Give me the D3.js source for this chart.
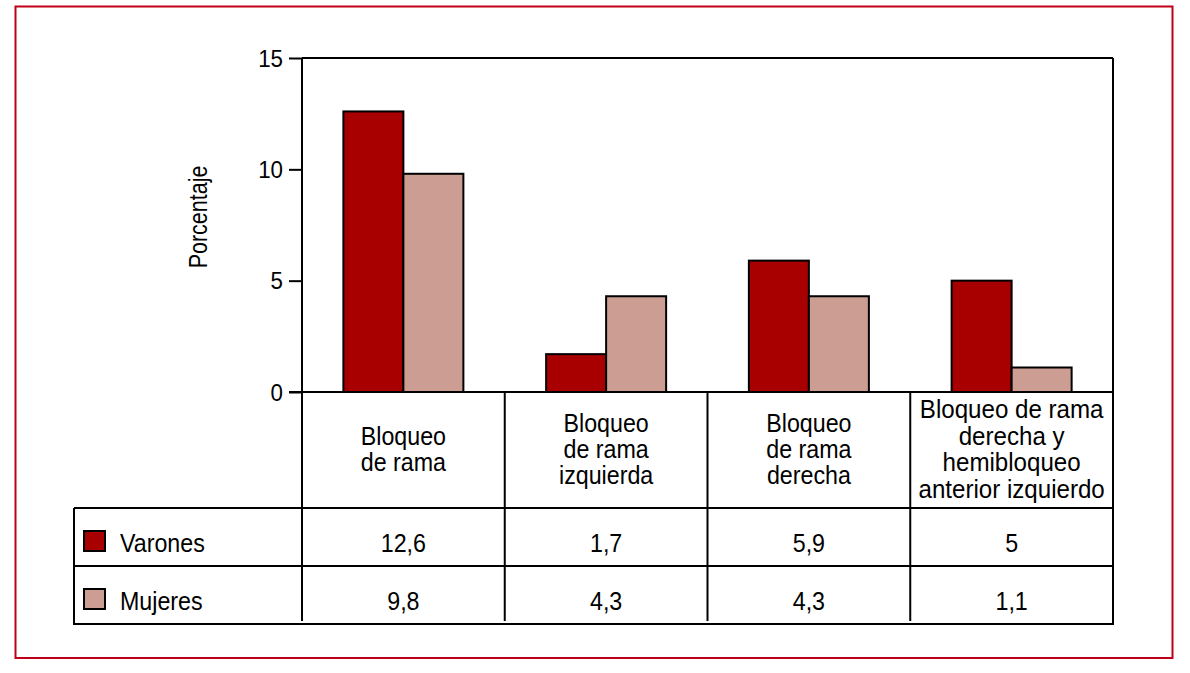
<!DOCTYPE html>
<html>
<head>
<meta charset="utf-8">
<script src="https://cdn.jsdelivr.net/npm/d3@7"></script>
<style>
  html, body { margin: 0; padding: 0; background: #fff; }
  svg { display: block; }
  text { font-family: "Liberation Sans", Arial, sans-serif; fill: #000; }
</style>
</head>
<body>
<svg id="chart" width="1190" height="673"></svg>
<script>
// ---- data ----
const categories = [
  ["Bloqueo", "de rama"],
  ["Bloqueo", "de rama", "izquierda"],
  ["Bloqueo", "de rama", "derecha"],
  ["Bloqueo de rama", "derecha y", "hemibloqueo", "anterior izquierdo"]
];
const seriesNames = ["Varones", "Mujeres"];
const varones = [12.6, 1.7, 5.9, 5];
const mujeres = [9.8, 4.3, 4.3, 1.1];
const valueLabels = [["12,6", "1,7", "5,9", "5"], ["9,8", "4,3", "4,3", "1,1"]];
const yTicks = [0, 5, 10, 15];
const colors = ["#a80000", "#cc9e93"];
const yTitle = "Porcentaje";

// ---- layout ----
const svg = d3.select("#chart");
const plotLeft = 302, plotRight = 1113, plotTop = 58, plotBottom = 392;
const tableLeft = 74, rowCat = 508, rowV = 566, rowM = 624;
const fs = 25, sx = 0.93;

svg.append("rect").attr("x", 15.5).attr("y", 6.5).attr("width", 1157).attr("height", 651.5)
  .attr("fill", "none").attr("stroke", "#c0001a").attr("stroke-width", 2);

const y = d3.scaleLinear().domain([0, 15]).range([plotBottom, plotTop]);
const catIdx = categories.map((d, i) => i);
const x = d3.scaleBand().domain(catIdx).range([plotLeft, plotRight]).padding(0);
const barW = 60;
const xs = d3.scaleBand().domain(seriesNames).range([-barW, barW]).padding(0);
const seriesData = [varones, mujeres];

// condensed text helper
function label(px, py, lines, anchor, size, lh, rot, scx) {
  const t = svg.append("text")
    .attr("transform", `translate(${px},${py})${rot ? ` rotate(${rot})` : ""} scale(${scx || sx},1)`)
    .attr("text-anchor", anchor).attr("font-size", size);
  lines.forEach((l, k) => t.append("tspan").attr("x", 0).attr("y", k * (lh || 0)).text(l));
  return t;
}

// bars
seriesNames.forEach((s, si) => {
  svg.append("g").selectAll("rect").data(seriesData[si]).join("rect")
    .attr("x", (d, i) => x(i) + x.bandwidth() / 2 + xs(s))
    .attr("y", d => y(d))
    .attr("width", xs.bandwidth())
    .attr("height", d => y(0) - y(d))
    .attr("fill", colors[si])
    .attr("stroke", "#000").attr("stroke-width", 2);
});

// y axis
const yAxis = svg.append("g").attr("transform", `translate(${plotLeft},0)`)
  .call(d3.axisLeft(y).tickValues(yTicks).tickSize(13).tickPadding(6).tickFormat(d3.format("d")));
yAxis.select(".domain").remove();
yAxis.selectAll(".tick line").attr("stroke", "#000").attr("stroke-width", 2);
yAxis.selectAll(".tick text").attr("font-size", 24).attr("font-family", null)
  .attr("dy", "0.34em").attr("x", -19 / sx).attr("transform", `scale(${sx},1)`);

// frame lines
const line = (x1, y1, x2, y2) => svg.append("line").attr("x1", x1).attr("y1", y1).attr("x2", x2).attr("y2", y2)
  .attr("stroke", "#000").attr("stroke-width", 2);
line(plotLeft, plotTop, plotRight, plotTop);
line(plotLeft, plotTop, plotLeft, rowM - 3);
line(plotRight, plotTop, plotRight, rowM + 1);
line(plotLeft - 13, plotBottom, plotRight, plotBottom);
line(tableLeft, rowCat, plotRight, rowCat);
line(tableLeft, rowV, plotRight, rowV);
line(tableLeft - 1, rowM, plotRight + 1, rowM);
line(tableLeft, rowCat, tableLeft, rowM);
catIdx.slice(1).forEach(i => line(x(i), plotBottom, x(i), rowM - 3));

// category labels
const lh = 26.5;
categories.forEach((lines, i) => {
  const cx = x(i) + x.bandwidth() / 2;
  const mid = (plotBottom + rowCat) / 2 - 1;
  const scx = lines.length === 4 ? 0.965 : sx;
  label(cx, mid - (lines.length - 1) / 2 * lh + 9, lines, "middle", fs, lh, 0, scx);
});

// legend rows + values
const rowsY = [[rowCat, rowV], [rowV, rowM]];
seriesNames.forEach((s, si) => {
  const [r0, r1] = rowsY[si];
  const cy = (r0 + r1) / 2;
  svg.append("rect").attr("x", 84).attr("y", cy - 6).attr("width", 21).attr("height", 20)
    .attr("fill", colors[si]).attr("stroke", "#000").attr("stroke-width", 2);
  label(120, cy + 15, [s], "start", fs);
  valueLabels[si].forEach((v, i) => label(x(i) + x.bandwidth() / 2, cy + 15, [v], "middle", fs));
});

// y title
label(207, 217, [yTitle], "middle", fs, 0, -90, 0.86);
</script>
</body>
</html>
